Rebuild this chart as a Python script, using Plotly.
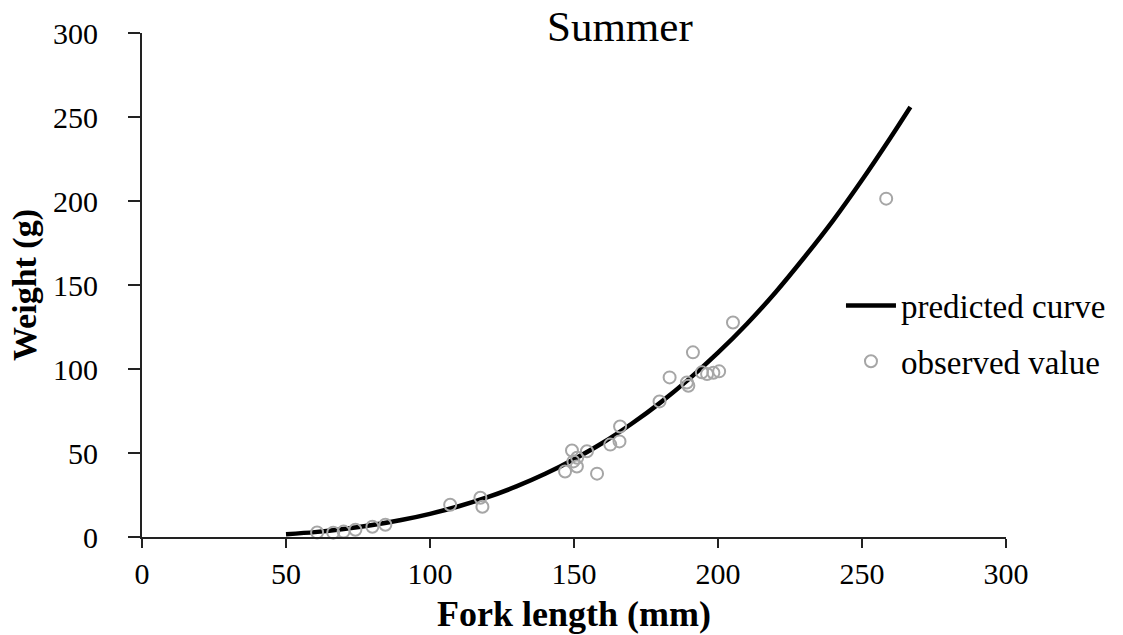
import plotly.graph_objects as go

# Observed data (fork length mm, weight g)
obs_length = [60.8, 66.4, 70.0, 74.1, 80.0, 84.5, 107.0, 117.5, 118.2,
              146.9, 149.3, 149.8, 151.0, 151.1, 154.5, 158.0, 162.6, 165.8, 166.0,
              179.7, 183.2, 189.2, 189.7, 191.3, 194.4, 196.2, 198.4, 200.4, 205.2, 258.4]
obs_weight = [2.7, 2.6, 3.2, 4.3, 6.1, 7.3, 19.2, 23.4, 18.0,
              39.0, 51.5, 45.0, 42.0, 47.2, 51.0, 37.7, 55.0, 56.9, 65.8,
              80.7, 95.0, 92.0, 90.0, 109.9, 98.0, 97.0, 97.8, 98.6, 127.7, 201.4]

# Predicted curve
pred_length = [50, 60, 70, 80, 90, 100, 110, 120, 130, 140, 150, 160, 170, 180,
               190, 200, 210, 220, 230, 240, 250, 260, 266.8]
pred_weight = [1.7, 2.9, 4.7, 7.1, 10.1, 13.8, 18.3, 23.7, 30.1, 37.6, 46.3, 56.1, 67.4, 80.0,
               94.1, 109.7, 126.8, 145.7, 166.5, 188.5, 212.5, 238.0, 256.0]

x_ticks = [0, 50, 100, 150, 200, 250, 300]
y_ticks = [0, 50, 100, 150, 200, 250, 300]

FONT = "Liberation Serif, Times New Roman, serif"

fig = go.Figure()
fig.add_trace(go.Scatter(
    x=pred_length, y=pred_weight, mode="lines", name="predicted curve",
    line=dict(color="black", width=4.5, shape="spline", smoothing=0.8),
    legendgroup="a",
))
fig.add_trace(go.Scatter(
    x=obs_length, y=obs_weight, mode="markers", name="observed value",
    marker=dict(symbol="circle-open", size=12, color="#a6a6a6", line=dict(width=2, color="#a6a6a6")),
    cliponaxis=False, legendgroup="b",
))

fig.update_layout(
    width=1123, height=635,
    margin=dict(l=142, r=117, t=33, b=98, autoexpand=False),
    paper_bgcolor="white", plot_bgcolor="white",
    font=dict(family=FONT, color="black"),
    showlegend=True,
    legend=dict(x=0.809, y=0.515, xanchor="left", yanchor="top",
                font=dict(family=FONT, size=33, color="black"),
                bgcolor="rgba(0,0,0,0)", tracegroupgap=10, traceorder="grouped",
                itemwidth=50),
    annotations=[dict(text="Summer", x=0.553, y=1.012, xref="paper", yref="paper",
                      showarrow=False, xanchor="center", yanchor="middle",
                      font=dict(family=FONT, size=43, color="black"))],
)

fig.update_xaxes(
    range=[0, 300], tickvals=x_ticks, ticktext=[str(v) for v in x_ticks],
    showgrid=False, zeroline=False, showline=True, linecolor="#222", linewidth=2,
    ticks="outside", ticklen=9, tickwidth=2, tickcolor="#222",
    tickfont=dict(family=FONT, size=30, color="black"), ticklabelstandoff=0,
    title=dict(text="<b>Fork length (mm)</b>", font=dict(family=FONT, size=36, color="black"), standoff=12),
)
fig.update_yaxes(
    range=[0, 300], tickvals=y_ticks, ticktext=[str(v) for v in y_ticks],
    showgrid=False, zeroline=False, showline=True, linecolor="#222", linewidth=2,
    ticks="outside", ticklen=12, tickwidth=2, tickcolor="#222",
    tickfont=dict(family=FONT, size=30, color="black"), ticklabelstandoff=24,
    title=dict(text="<b>Weight (g)</b>", font=dict(family=FONT, size=34, color="black"), standoff=6),
)

fig.write_html("out.html")
